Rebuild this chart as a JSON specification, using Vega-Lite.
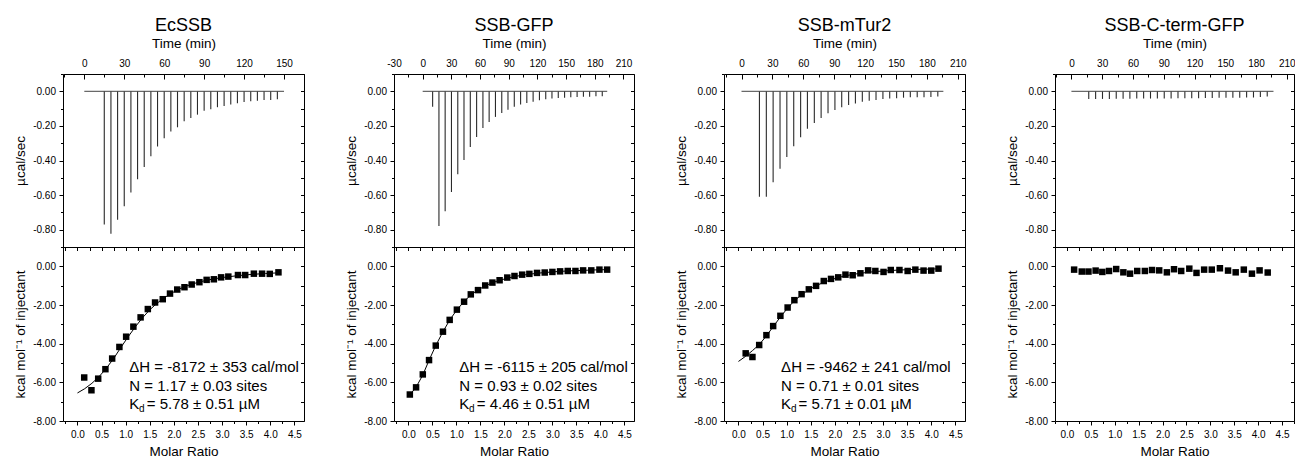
{
  "$schema": "https://vega.github.io/schema/vega-lite/v6.json",
  "padding": {"left": 13, "top": 16, "right": 0, "bottom": 0},
  "background": "white",
  "config": {
    "font": "Liberation Sans",
    "view": {"stroke": "black", "strokeWidth": 1},
    "axis": {"domain": false, "grid": false, "labelFont": "Liberation Sans", "labelFontSize": 10, "labelColor": "black", "tickColor": "black", "tickWidth": 1, "titleFont": "Liberation Sans", "titleFontSize": 13.5, "titleFontWeight": "normal", "titleColor": "black", "labelFlush": false, "labelOverlap": false},
    "title": {"font": "Liberation Sans", "fontSize": 18, "fontWeight": "normal", "color": "black", "offset": 1},
    "text": {"align": "left", "baseline": "alphabetic", "color": "black"}
  },
  "datasets": {
    "inj1": [{"t":15,"peak":-0.77},{"t":20,"peak":-0.823},{"t":25,"peak":-0.742},{"t":30,"peak":-0.665},{"t":35,"peak":-0.585},{"t":40,"peak":-0.508},{"t":45,"peak":-0.438},{"t":50,"peak":-0.375},{"t":55,"peak":-0.319},{"t":60,"peak":-0.271},{"t":65,"peak":-0.233},{"t":70,"peak":-0.208},{"t":75,"peak":-0.173},{"t":80,"peak":-0.154},{"t":85,"peak":-0.135},{"t":90,"peak":-0.112},{"t":95,"peak":-0.104},{"t":100,"peak":-0.092},{"t":105,"peak":-0.085},{"t":110,"peak":-0.077},{"t":115,"peak":-0.069},{"t":120,"peak":-0.062},{"t":125,"peak":-0.058},{"t":130,"peak":-0.054},{"t":135,"peak":-0.05},{"t":140,"peak":-0.05},{"t":145,"peak":-0.046}],
    "inj2": [{"t":10.4,"peak":-0.09},{"t":17.0,"peak":-0.778},{"t":23.5,"peak":-0.694},{"t":30.1,"peak":-0.582},{"t":36.7,"peak":-0.48},{"t":43.2,"peak":-0.397},{"t":49.8,"peak":-0.322},{"t":56.4,"peak":-0.264},{"t":63.0,"peak":-0.212},{"t":69.5,"peak":-0.177},{"t":76.1,"peak":-0.148},{"t":82.7,"peak":-0.125},{"t":89.2,"peak":-0.106},{"t":95.8,"peak":-0.09},{"t":102.4,"peak":-0.077},{"t":108.9,"peak":-0.067},{"t":115.5,"peak":-0.06},{"t":122.1,"peak":-0.052},{"t":128.7,"peak":-0.046},{"t":135.2,"peak":-0.042},{"t":141.8,"peak":-0.039},{"t":148.4,"peak":-0.037},{"t":154.9,"peak":-0.035},{"t":161.5,"peak":-0.033},{"t":168.1,"peak":-0.031},{"t":174.6,"peak":-0.031},{"t":181.2,"peak":-0.029},{"t":187.8,"peak":-0.029}],
    "inj3": [{"t":17.4,"peak":-0.61},{"t":24.1,"peak":-0.61},{"t":30.7,"peak":-0.525},{"t":37.4,"peak":-0.448},{"t":44.0,"peak":-0.38},{"t":50.7,"peak":-0.317},{"t":57.4,"peak":-0.265},{"t":64.0,"peak":-0.217},{"t":70.7,"peak":-0.183},{"t":77.3,"peak":-0.154},{"t":84.0,"peak":-0.127},{"t":90.7,"peak":-0.108},{"t":97.3,"peak":-0.092},{"t":104.0,"peak":-0.079},{"t":110.6,"peak":-0.07},{"t":117.3,"peak":-0.06},{"t":124.0,"peak":-0.055},{"t":130.6,"peak":-0.05},{"t":137.3,"peak":-0.045},{"t":143.9,"peak":-0.042},{"t":150.6,"peak":-0.04},{"t":157.3,"peak":-0.037},{"t":163.9,"peak":-0.035},{"t":170.6,"peak":-0.035},{"t":177.2,"peak":-0.034},{"t":183.9,"peak":-0.033},{"t":190.6,"peak":-0.03}],
    "inj4": [{"t":16.9,"peak":-0.045},{"t":23.6,"peak":-0.045},{"t":30.3,"peak":-0.044},{"t":37.0,"peak":-0.044},{"t":43.7,"peak":-0.043},{"t":50.4,"peak":-0.043},{"t":57.0,"peak":-0.043},{"t":63.7,"peak":-0.042},{"t":70.4,"peak":-0.042},{"t":77.1,"peak":-0.042},{"t":83.8,"peak":-0.041},{"t":90.5,"peak":-0.041},{"t":97.2,"peak":-0.041},{"t":103.9,"peak":-0.04},{"t":110.6,"peak":-0.04},{"t":117.3,"peak":-0.04},{"t":124.0,"peak":-0.04},{"t":130.6,"peak":-0.039},{"t":137.3,"peak":-0.039},{"t":144.0,"peak":-0.038},{"t":150.7,"peak":-0.038},{"t":157.4,"peak":-0.037},{"t":164.1,"peak":-0.037},{"t":170.8,"peak":-0.036},{"t":177.5,"peak":-0.036},{"t":184.2,"peak":-0.033},{"t":190.9,"peak":-0.03}],
    "base1": [{"start":0,"end":150}],
    "base2": [{"start":0,"end":193}],
    "base3": [{"start":0,"end":196}],
    "base4": [{"start":0,"end":197}],
    "pts1": [{"mr":0.14,"dh":-5.75},{"mr":0.29,"dh":-6.41},{"mr":0.43,"dh":-5.81},{"mr":0.58,"dh":-5.32},{"mr":0.72,"dh":-4.77},{"mr":0.87,"dh":-4.17},{"mr":1.01,"dh":-3.64},{"mr":1.16,"dh":-3.12},{"mr":1.31,"dh":-2.64},{"mr":1.46,"dh":-2.21},{"mr":1.61,"dh":-1.87},{"mr":1.77,"dh":-1.70},{"mr":1.92,"dh":-1.41},{"mr":2.07,"dh":-1.20},{"mr":2.22,"dh":-1.08},{"mr":2.37,"dh":-0.94},{"mr":2.53,"dh":-0.82},{"mr":2.68,"dh":-0.70},{"mr":2.83,"dh":-0.67},{"mr":2.98,"dh":-0.57},{"mr":3.13,"dh":-0.53},{"mr":3.33,"dh":-0.45},{"mr":3.48,"dh":-0.45},{"mr":3.66,"dh":-0.38},{"mr":3.83,"dh":-0.38},{"mr":3.99,"dh":-0.39},{"mr":4.17,"dh":-0.31}],
    "fit1": [{"mr":0.0,"dh":-6.55},{"mr":0.15,"dh":-6.33},{"mr":0.3,"dh":-6.05},{"mr":0.45,"dh":-5.7},{"mr":0.6,"dh":-5.27},{"mr":0.75,"dh":-4.77},{"mr":0.9,"dh":-4.2},{"mr":1.05,"dh":-3.65},{"mr":1.2,"dh":-3.13},{"mr":1.35,"dh":-2.66},{"mr":1.5,"dh":-2.25},{"mr":1.65,"dh":-1.91},{"mr":1.8,"dh":-1.63},{"mr":1.95,"dh":-1.39},{"mr":2.1,"dh":-1.19},{"mr":2.25,"dh":-1.03},{"mr":2.4,"dh":-0.9},{"mr":2.55,"dh":-0.8},{"mr":2.7,"dh":-0.71},{"mr":2.85,"dh":-0.64},{"mr":3.0,"dh":-0.58},{"mr":3.3,"dh":-0.49},{"mr":3.6,"dh":-0.42},{"mr":3.9,"dh":-0.37},{"mr":4.15,"dh":-0.34}],
    "pts2": [{"mr":0.03,"dh":-6.63},{"mr":0.16,"dh":-6.26},{"mr":0.30,"dh":-5.59},{"mr":0.43,"dh":-4.85},{"mr":0.57,"dh":-4.10},{"mr":0.72,"dh":-3.38},{"mr":0.86,"dh":-2.77},{"mr":1.01,"dh":-2.24},{"mr":1.16,"dh":-1.83},{"mr":1.30,"dh":-1.45},{"mr":1.45,"dh":-1.23},{"mr":1.60,"dh":-0.99},{"mr":1.75,"dh":-0.84},{"mr":1.90,"dh":-0.72},{"mr":2.06,"dh":-0.58},{"mr":2.21,"dh":-0.50},{"mr":2.37,"dh":-0.43},{"mr":2.52,"dh":-0.39},{"mr":2.68,"dh":-0.34},{"mr":2.84,"dh":-0.32},{"mr":3.00,"dh":-0.29},{"mr":3.16,"dh":-0.26},{"mr":3.32,"dh":-0.24},{"mr":3.48,"dh":-0.24},{"mr":3.64,"dh":-0.21},{"mr":3.81,"dh":-0.21},{"mr":3.98,"dh":-0.17},{"mr":4.14,"dh":-0.17}],
    "fit2": [{"mr":0.03,"dh":-6.65},{"mr":0.16,"dh":-6.25},{"mr":0.30,"dh":-5.62},{"mr":0.43,"dh":-4.86},{"mr":0.57,"dh":-4.10},{"mr":0.72,"dh":-3.38},{"mr":0.86,"dh":-2.78},{"mr":1.01,"dh":-2.25},{"mr":1.16,"dh":-1.82},{"mr":1.30,"dh":-1.48},{"mr":1.45,"dh":-1.22},{"mr":1.60,"dh":-1.01},{"mr":1.75,"dh":-0.85},{"mr":1.90,"dh":-0.72},{"mr":2.06,"dh":-0.62},{"mr":2.21,"dh":-0.53},{"mr":2.37,"dh":-0.46},{"mr":2.52,"dh":-0.41},{"mr":2.68,"dh":-0.36},{"mr":2.84,"dh":-0.32},{"mr":3.00,"dh":-0.29},{"mr":3.16,"dh":-0.26},{"mr":3.32,"dh":-0.24},{"mr":3.48,"dh":-0.22},{"mr":3.64,"dh":-0.21},{"mr":3.81,"dh":-0.19},{"mr":3.98,"dh":-0.18},{"mr":4.14,"dh":-0.17}],
    "pts3": [{"mr":0.15,"dh":-4.5},{"mr":0.29,"dh":-4.69},{"mr":0.43,"dh":-4.07},{"mr":0.58,"dh":-3.56},{"mr":0.72,"dh":-3.09},{"mr":0.87,"dh":-2.56},{"mr":1.02,"dh":-2.13},{"mr":1.16,"dh":-1.75},{"mr":1.31,"dh":-1.44},{"mr":1.46,"dh":-1.19},{"mr":1.61,"dh":-1.01},{"mr":1.77,"dh":-0.76},{"mr":1.92,"dh":-0.65},{"mr":2.07,"dh":-0.57},{"mr":2.22,"dh":-0.43},{"mr":2.37,"dh":-0.46},{"mr":2.53,"dh":-0.36},{"mr":2.69,"dh":-0.21},{"mr":2.84,"dh":-0.24},{"mr":3.01,"dh":-0.29},{"mr":3.16,"dh":-0.19},{"mr":3.34,"dh":-0.19},{"mr":3.51,"dh":-0.24},{"mr":3.67,"dh":-0.17},{"mr":3.84,"dh":-0.22},{"mr":4.0,"dh":-0.22},{"mr":4.15,"dh":-0.12}],
    "fit3": [{"mr":0.0,"dh":-4.92},{"mr":0.15,"dh":-4.65},{"mr":0.29,"dh":-4.36},{"mr":0.43,"dh":-4.05},{"mr":0.58,"dh":-3.6},{"mr":0.72,"dh":-3.12},{"mr":0.87,"dh":-2.62},{"mr":1.02,"dh":-2.16},{"mr":1.16,"dh":-1.78},{"mr":1.31,"dh":-1.47},{"mr":1.46,"dh":-1.21},{"mr":1.61,"dh":-1.0},{"mr":1.77,"dh":-0.83},{"mr":1.92,"dh":-0.69},{"mr":2.07,"dh":-0.58},{"mr":2.22,"dh":-0.49},{"mr":2.37,"dh":-0.42},{"mr":2.53,"dh":-0.36},{"mr":2.69,"dh":-0.31},{"mr":2.84,"dh":-0.27},{"mr":3.01,"dh":-0.24},{"mr":3.34,"dh":-0.19},{"mr":3.67,"dh":-0.16},{"mr":4.0,"dh":-0.14},{"mr":4.15,"dh":-0.13}],
    "pts4": [{"mr":0.15,"dh":-0.17},{"mr":0.31,"dh":-0.27},{"mr":0.45,"dh":-0.27},{"mr":0.60,"dh":-0.22},{"mr":0.74,"dh":-0.29},{"mr":0.88,"dh":-0.24},{"mr":1.03,"dh":-0.14},{"mr":1.18,"dh":-0.31},{"mr":1.32,"dh":-0.38},{"mr":1.47,"dh":-0.24},{"mr":1.63,"dh":-0.24},{"mr":1.78,"dh":-0.19},{"mr":1.93,"dh":-0.21},{"mr":2.09,"dh":-0.31},{"mr":2.24,"dh":-0.15},{"mr":2.39,"dh":-0.24},{"mr":2.56,"dh":-0.12},{"mr":2.71,"dh":-0.34},{"mr":2.87,"dh":-0.17},{"mr":3.03,"dh":-0.17},{"mr":3.20,"dh":-0.10},{"mr":3.37,"dh":-0.22},{"mr":3.53,"dh":-0.31},{"mr":3.70,"dh":-0.17},{"mr":3.87,"dh":-0.38},{"mr":4.03,"dh":-0.21},{"mr":4.20,"dh":-0.32}]
  },
  "concat": [
    {
      "width": 241, "height": 173,
      "title": {"text": "EcSSB"},
      "layer": [
        {"data": {"name": "inj1"}, "mark": {"type": "rule", "color": "#2a2a2a", "strokeWidth": 1.1},
         "encoding": {
           "x": {"field": "t", "type": "quantitative", "scale": {"domain": [-16, 165], "nice": false, "zero": false},
                 "axis": {"orient": "top", "title": "Time (min)", "values": [-15,0,15,30,45,60,75,90,105,120,135,150,165], "labelExpr": "datum.value % 30 === 0 ? replace(datum.label, '−', '-') : ''", "tickSize": {"condition": {"test": "datum.value % 30 === 0", "value": -5}, "value": -3}, "labelPadding": 11, "titlePadding": 6}},
           "y": {"field": "peak", "type": "quantitative", "scale": {"domain": [-0.9, 0.1], "nice": false, "zero": false},
                 "axis": {"orient": "left", "title": "µcal/sec", "values": [0.1,0,-0.1,-0.2,-0.3,-0.4,-0.5,-0.6,-0.7,-0.8,-0.9], "labelExpr": "abs(round(datum.value*10)) % 2 === 0 ? replace(format(datum.value, '.2f'), '−', '-') : ''", "tickSize": {"condition": {"test": "abs(round(datum.value*10)) % 2 === 0", "value": 4}, "value": 2.5}, "labelPadding": 3.5, "titlePadding": 5}},
           "y2": {"datum": 0}
         }},
        {"data": {"name": "base1"}, "mark": {"type": "rule", "color": "#444", "strokeWidth": 1},
         "encoding": {
           "x": {"field": "start", "type": "quantitative", "axis": null},
           "x2": {"field": "end"},
           "y": {"datum": 0, "type": "quantitative", "axis": {"orient": "right", "title": null, "labels": false, "values": [0.1,0,-0.1,-0.2,-0.3,-0.4,-0.5,-0.6,-0.7,-0.8,-0.9], "tickSize": -3.5}}
         }}
      ],
      "resolve": {"axis": {"x": "independent", "y": "independent"}}
    },
    {
      "width": 240, "height": 173,
      "title": {"text": "SSB-GFP"},
      "layer": [
        {"data": {"name": "inj2"}, "mark": {"type": "rule", "color": "#2a2a2a", "strokeWidth": 1.1},
         "encoding": {
           "x": {"field": "t", "type": "quantitative", "scale": {"domain": [-30, 221], "nice": false, "zero": false},
                 "axis": {"orient": "top", "title": "Time (min)", "values": [-30,-15,0,15,30,45,60,75,90,105,120,135,150,165,180,195,210], "labelExpr": "datum.value % 30 === 0 ? replace(datum.label, '−', '-') : ''", "tickSize": {"condition": {"test": "datum.value % 30 === 0", "value": -5}, "value": -3}, "labelPadding": 11, "titlePadding": 6}},
           "y": {"field": "peak", "type": "quantitative", "scale": {"domain": [-0.9, 0.1], "nice": false, "zero": false},
                 "axis": {"orient": "left", "title": "µcal/sec", "values": [0.1,0,-0.1,-0.2,-0.3,-0.4,-0.5,-0.6,-0.7,-0.8,-0.9], "labelExpr": "abs(round(datum.value*10)) % 2 === 0 ? replace(format(datum.value, '.2f'), '−', '-') : ''", "tickSize": {"condition": {"test": "abs(round(datum.value*10)) % 2 === 0", "value": 4}, "value": 2.5}, "labelPadding": 3.5, "titlePadding": 5}},
           "y2": {"datum": 0}
         }},
        {"data": {"name": "base2"}, "mark": {"type": "rule", "color": "#444", "strokeWidth": 1},
         "encoding": {
           "x": {"field": "start", "type": "quantitative", "axis": null},
           "x2": {"field": "end"},
           "y": {"datum": 0, "type": "quantitative", "axis": {"orient": "right", "title": null, "labels": false, "values": [0.1,0,-0.1,-0.2,-0.3,-0.4,-0.5,-0.6,-0.7,-0.8,-0.9], "tickSize": -3.5}}
         }}
      ],
      "resolve": {"axis": {"x": "independent", "y": "independent"}}
    },
    {
      "width": 241, "height": 173,
      "title": {"text": "SSB-mTur2"},
      "layer": [
        {"data": {"name": "inj3"}, "mark": {"type": "rule", "color": "#2a2a2a", "strokeWidth": 1.1},
         "encoding": {
           "x": {"field": "t", "type": "quantitative", "scale": {"domain": [-17, 217], "nice": false, "zero": false},
                 "axis": {"orient": "top", "title": "Time (min)", "values": [-15,0,15,30,45,60,75,90,105,120,135,150,165,180,195,210], "labelExpr": "datum.value % 30 === 0 ? replace(datum.label, '−', '-') : ''", "tickSize": {"condition": {"test": "datum.value % 30 === 0", "value": -5}, "value": -3}, "labelPadding": 11, "titlePadding": 6}},
           "y": {"field": "peak", "type": "quantitative", "scale": {"domain": [-0.9, 0.1], "nice": false, "zero": false},
                 "axis": {"orient": "left", "title": "µcal/sec", "values": [0.1,0,-0.1,-0.2,-0.3,-0.4,-0.5,-0.6,-0.7,-0.8,-0.9], "labelExpr": "abs(round(datum.value*10)) % 2 === 0 ? replace(format(datum.value, '.2f'), '−', '-') : ''", "tickSize": {"condition": {"test": "abs(round(datum.value*10)) % 2 === 0", "value": 4}, "value": 2.5}, "labelPadding": 3.5, "titlePadding": 5}},
           "y2": {"datum": 0}
         }},
        {"data": {"name": "base3"}, "mark": {"type": "rule", "color": "#444", "strokeWidth": 1},
         "encoding": {
           "x": {"field": "start", "type": "quantitative", "axis": null},
           "x2": {"field": "end"},
           "y": {"datum": 0, "type": "quantitative", "axis": {"orient": "right", "title": null, "labels": false, "values": [0.1,0,-0.1,-0.2,-0.3,-0.4,-0.5,-0.6,-0.7,-0.8,-0.9], "tickSize": -3.5}}
         }}
      ],
      "resolve": {"axis": {"x": "independent", "y": "independent"}}
    },
    {
      "width": 239, "height": 173,
      "title": {"text": "SSB-C-term-GFP"},
      "layer": [
        {"data": {"name": "inj4"}, "mark": {"type": "rule", "color": "#2a2a2a", "strokeWidth": 1.1},
         "encoding": {
           "x": {"field": "t", "type": "quantitative", "scale": {"domain": [-16, 217], "nice": false, "zero": false},
                 "axis": {"orient": "top", "title": "Time (min)", "values": [-15,0,15,30,45,60,75,90,105,120,135,150,165,180,195,210], "labelExpr": "datum.value % 30 === 0 ? replace(datum.label, '−', '-') : ''", "tickSize": {"condition": {"test": "datum.value % 30 === 0", "value": -5}, "value": -3}, "labelPadding": 11, "titlePadding": 6}},
           "y": {"field": "peak", "type": "quantitative", "scale": {"domain": [-0.9, 0.1], "nice": false, "zero": false},
                 "axis": {"orient": "left", "title": "µcal/sec", "values": [0.1,0,-0.1,-0.2,-0.3,-0.4,-0.5,-0.6,-0.7,-0.8,-0.9], "labelExpr": "abs(round(datum.value*10)) % 2 === 0 ? replace(format(datum.value, '.2f'), '−', '-') : ''", "tickSize": {"condition": {"test": "abs(round(datum.value*10)) % 2 === 0", "value": 4}, "value": 2.5}, "labelPadding": 3.5, "titlePadding": 5}},
           "y2": {"datum": 0}
         }},
        {"data": {"name": "base4"}, "mark": {"type": "rule", "color": "#444", "strokeWidth": 1},
         "encoding": {
           "x": {"field": "start", "type": "quantitative", "axis": null},
           "x2": {"field": "end"},
           "y": {"datum": 0, "type": "quantitative", "axis": {"orient": "right", "title": null, "labels": false, "values": [0.1,0,-0.1,-0.2,-0.3,-0.4,-0.5,-0.6,-0.7,-0.8,-0.9], "tickSize": -3.5}}
         }}
      ],
      "resolve": {"axis": {"x": "independent", "y": "independent"}}
    },
    {
      "width": 241, "height": 174,
      "layer": [
        {"data": {"name": "fit1"}, "mark": {"type": "line", "color": "black", "strokeWidth": 1},
         "encoding": {
           "x": {"field": "mr", "type": "quantitative", "scale": {"domain": [-0.3, 4.7], "nice": false, "zero": false},
                 "axis": {"orient": "bottom", "title": "Molar Ratio", "values": [-0.25,0,0.25,0.5,0.75,1,1.25,1.5,1.75,2,2.25,2.5,2.75,3,3.25,3.5,3.75,4,4.25,4.5], "labelExpr": "round(datum.value*4) % 2 === 0 ? format(datum.value, '.1f') : ''", "tickSize": {"condition": {"test": "round(datum.value*4) % 2 === 0", "value": 4}, "value": 2.5}, "labelPadding": 4.5, "titlePadding": 5}},
           "y": {"field": "dh", "type": "quantitative", "scale": {"domain": [-8, 1], "nice": false, "zero": false},
                 "axis": {"orient": "left", "title": "kcal mol⁻¹ of injectant", "values": [1,0,-1,-2,-3,-4,-5,-6,-7,-8], "labelExpr": "datum.value % 2 === 0 ? replace(format(datum.value, '.2f'), '−', '-') : ''", "tickSize": {"condition": {"test": "datum.value % 2 === 0", "value": 4}, "value": 2.5}, "labelPadding": 3.5, "titlePadding": 5}}
         }},
        {"data": {"name": "pts1"}, "mark": {"type": "point", "shape": "square", "filled": true, "size": 42, "color": "black", "opacity": 1},
         "encoding": {
           "x": {"field": "mr", "type": "quantitative", "axis": {"orient": "top", "title": null, "labels": false, "values": [-0.25,0,0.25,0.5,0.75,1,1.25,1.5,1.75,2,2.25,2.5,2.75,3,3.25,3.5,3.75,4,4.25,4.5], "tickSize": -3.5}},
           "y": {"field": "dh", "type": "quantitative", "axis": {"orient": "right", "title": null, "labels": false, "values": [1,0,-1,-2,-3,-4,-5,-6,-7,-8], "tickSize": -3.5}}
         }},
        {"data": {"values": [{}]}, "mark": {"type": "text", "fontSize": 15, "lineHeight": 18.5},
         "encoding": {"x": {"datum": 1.075, "type": "quantitative", "axis": null}, "y": {"datum": -5.47, "type": "quantitative", "axis": null},
           "text": {"value": ["ΔH = -8172 ± 353 cal/mol", "N = 1.17 ± 0.03 sites"]}}},
        {"data": {"values": [{}]}, "mark": {"type": "text", "fontSize": 15},
         "encoding": {"x": {"datum": 1.075, "type": "quantitative", "axis": null}, "y": {"datum": -7.384, "type": "quantitative", "axis": null}, "text": {"value": "K"}}},
        {"data": {"values": [{}]}, "mark": {"type": "text", "fontSize": 10, "dx": 9.8, "dy": 3},
         "encoding": {"x": {"datum": 1.075, "type": "quantitative", "axis": null}, "y": {"datum": -7.384, "type": "quantitative", "axis": null}, "text": {"value": "d"}}},
        {"data": {"values": [{}]}, "mark": {"type": "text", "fontSize": 15, "dx": 17.5},
         "encoding": {"x": {"datum": 1.075, "type": "quantitative", "axis": null}, "y": {"datum": -7.384, "type": "quantitative", "axis": null}, "text": {"value": "= 5.78 ± 0.51 µM"}}}
      ],
      "resolve": {"axis": {"x": "independent", "y": "independent"}}
    },
    {
      "width": 240, "height": 174,
      "layer": [
        {"data": {"name": "fit2"}, "mark": {"type": "line", "color": "black", "strokeWidth": 1},
         "encoding": {
           "x": {"field": "mr", "type": "quantitative", "scale": {"domain": [-0.3, 4.7], "nice": false, "zero": false},
                 "axis": {"orient": "bottom", "title": "Molar Ratio", "values": [-0.25,0,0.25,0.5,0.75,1,1.25,1.5,1.75,2,2.25,2.5,2.75,3,3.25,3.5,3.75,4,4.25,4.5], "labelExpr": "round(datum.value*4) % 2 === 0 ? format(datum.value, '.1f') : ''", "tickSize": {"condition": {"test": "round(datum.value*4) % 2 === 0", "value": 4}, "value": 2.5}, "labelPadding": 4.5, "titlePadding": 5}},
           "y": {"field": "dh", "type": "quantitative", "scale": {"domain": [-8, 1], "nice": false, "zero": false},
                 "axis": {"orient": "left", "title": "kcal mol⁻¹ of injectant", "values": [1,0,-1,-2,-3,-4,-5,-6,-7,-8], "labelExpr": "datum.value % 2 === 0 ? replace(format(datum.value, '.2f'), '−', '-') : ''", "tickSize": {"condition": {"test": "datum.value % 2 === 0", "value": 4}, "value": 2.5}, "labelPadding": 3.5, "titlePadding": 5}}
         }},
        {"data": {"name": "pts2"}, "mark": {"type": "point", "shape": "square", "filled": true, "size": 42, "color": "black", "opacity": 1},
         "encoding": {
           "x": {"field": "mr", "type": "quantitative", "axis": {"orient": "top", "title": null, "labels": false, "values": [-0.25,0,0.25,0.5,0.75,1,1.25,1.5,1.75,2,2.25,2.5,2.75,3,3.25,3.5,3.75,4,4.25,4.5], "tickSize": -3.5}},
           "y": {"field": "dh", "type": "quantitative", "axis": {"orient": "right", "title": null, "labels": false, "values": [1,0,-1,-2,-3,-4,-5,-6,-7,-8], "tickSize": -3.5}}
         }},
        {"data": {"values": [{}]}, "mark": {"type": "text", "fontSize": 15, "lineHeight": 18.5},
         "encoding": {"x": {"datum": 1.06, "type": "quantitative", "axis": null}, "y": {"datum": -5.47, "type": "quantitative", "axis": null},
           "text": {"value": ["ΔH = -6115 ± 205 cal/mol", "N = 0.93 ± 0.02 sites"]}}},
        {"data": {"values": [{}]}, "mark": {"type": "text", "fontSize": 15},
         "encoding": {"x": {"datum": 1.06, "type": "quantitative", "axis": null}, "y": {"datum": -7.384, "type": "quantitative", "axis": null}, "text": {"value": "K"}}},
        {"data": {"values": [{}]}, "mark": {"type": "text", "fontSize": 10, "dx": 9.8, "dy": 3},
         "encoding": {"x": {"datum": 1.06, "type": "quantitative", "axis": null}, "y": {"datum": -7.384, "type": "quantitative", "axis": null}, "text": {"value": "d"}}},
        {"data": {"values": [{}]}, "mark": {"type": "text", "fontSize": 15, "dx": 17.5},
         "encoding": {"x": {"datum": 1.06, "type": "quantitative", "axis": null}, "y": {"datum": -7.384, "type": "quantitative", "axis": null}, "text": {"value": "= 4.46 ± 0.51 µM"}}}
      ],
      "resolve": {"axis": {"x": "independent", "y": "independent"}}
    },
    {
      "width": 241, "height": 174,
      "layer": [
        {"data": {"name": "fit3"}, "mark": {"type": "line", "color": "black", "strokeWidth": 1},
         "encoding": {
           "x": {"field": "mr", "type": "quantitative", "scale": {"domain": [-0.3, 4.7], "nice": false, "zero": false},
                 "axis": {"orient": "bottom", "title": "Molar Ratio", "values": [-0.25,0,0.25,0.5,0.75,1,1.25,1.5,1.75,2,2.25,2.5,2.75,3,3.25,3.5,3.75,4,4.25,4.5], "labelExpr": "round(datum.value*4) % 2 === 0 ? format(datum.value, '.1f') : ''", "tickSize": {"condition": {"test": "round(datum.value*4) % 2 === 0", "value": 4}, "value": 2.5}, "labelPadding": 4.5, "titlePadding": 5}},
           "y": {"field": "dh", "type": "quantitative", "scale": {"domain": [-8, 1], "nice": false, "zero": false},
                 "axis": {"orient": "left", "title": "kcal mol⁻¹ of injectant", "values": [1,0,-1,-2,-3,-4,-5,-6,-7,-8], "labelExpr": "datum.value % 2 === 0 ? replace(format(datum.value, '.2f'), '−', '-') : ''", "tickSize": {"condition": {"test": "datum.value % 2 === 0", "value": 4}, "value": 2.5}, "labelPadding": 3.5, "titlePadding": 5}}
         }},
        {"data": {"name": "pts3"}, "mark": {"type": "point", "shape": "square", "filled": true, "size": 42, "color": "black", "opacity": 1},
         "encoding": {
           "x": {"field": "mr", "type": "quantitative", "axis": {"orient": "top", "title": null, "labels": false, "values": [-0.25,0,0.25,0.5,0.75,1,1.25,1.5,1.75,2,2.25,2.5,2.75,3,3.25,3.5,3.75,4,4.25,4.5], "tickSize": -3.5}},
           "y": {"field": "dh", "type": "quantitative", "axis": {"orient": "right", "title": null, "labels": false, "values": [1,0,-1,-2,-3,-4,-5,-6,-7,-8], "tickSize": -3.5}}
         }},
        {"data": {"values": [{}]}, "mark": {"type": "text", "fontSize": 15, "lineHeight": 18.5},
         "encoding": {"x": {"datum": 0.885, "type": "quantitative", "axis": null}, "y": {"datum": -5.47, "type": "quantitative", "axis": null},
           "text": {"value": ["ΔH = -9462 ± 241 cal/mol", "N = 0.71 ± 0.01 sites"]}}},
        {"data": {"values": [{}]}, "mark": {"type": "text", "fontSize": 15},
         "encoding": {"x": {"datum": 0.885, "type": "quantitative", "axis": null}, "y": {"datum": -7.384, "type": "quantitative", "axis": null}, "text": {"value": "K"}}},
        {"data": {"values": [{}]}, "mark": {"type": "text", "fontSize": 10, "dx": 9.8, "dy": 3},
         "encoding": {"x": {"datum": 0.885, "type": "quantitative", "axis": null}, "y": {"datum": -7.384, "type": "quantitative", "axis": null}, "text": {"value": "d"}}},
        {"data": {"values": [{}]}, "mark": {"type": "text", "fontSize": 15, "dx": 17.5},
         "encoding": {"x": {"datum": 0.885, "type": "quantitative", "axis": null}, "y": {"datum": -7.384, "type": "quantitative", "axis": null}, "text": {"value": "= 5.71 ± 0.01 µM"}}}
      ],
      "resolve": {"axis": {"x": "independent", "y": "independent"}}
    },
    {
      "width": 239, "height": 174,
      "layer": [
        {"data": {"name": "pts4"}, "mark": {"type": "point", "shape": "square", "filled": true, "size": 42, "color": "black", "opacity": 1},
         "encoding": {
           "x": {"field": "mr", "type": "quantitative", "scale": {"domain": [-0.25, 4.75], "nice": false, "zero": false},
                 "axis": {"orient": "bottom", "title": "Molar Ratio", "values": [-0.25,0,0.25,0.5,0.75,1,1.25,1.5,1.75,2,2.25,2.5,2.75,3,3.25,3.5,3.75,4,4.25,4.5,4.75], "labelExpr": "round(datum.value*4) % 2 === 0 ? format(datum.value, '.1f') : ''", "tickSize": {"condition": {"test": "round(datum.value*4) % 2 === 0", "value": 4}, "value": 2.5}, "labelPadding": 4.5, "titlePadding": 5}},
           "y": {"field": "dh", "type": "quantitative", "scale": {"domain": [-8, 1], "nice": false, "zero": false},
                 "axis": {"orient": "left", "title": "kcal mol⁻¹ of injectant", "values": [1,0,-1,-2,-3,-4,-5,-6,-7,-8], "labelExpr": "datum.value % 2 === 0 ? replace(format(datum.value, '.2f'), '−', '-') : ''", "tickSize": {"condition": {"test": "datum.value % 2 === 0", "value": 4}, "value": 2.5}, "labelPadding": 3.5, "titlePadding": 5}}
         }},
        {"data": {"name": "pts4"}, "mark": {"type": "point", "shape": "square", "filled": true, "size": 42, "color": "black", "opacity": 0},
         "encoding": {
           "x": {"field": "mr", "type": "quantitative", "axis": {"orient": "top", "title": null, "labels": false, "values": [-0.25,0,0.25,0.5,0.75,1,1.25,1.5,1.75,2,2.25,2.5,2.75,3,3.25,3.5,3.75,4,4.25,4.5,4.75], "tickSize": -3.5}},
           "y": {"field": "dh", "type": "quantitative", "axis": {"orient": "right", "title": null, "labels": false, "values": [1,0,-1,-2,-3,-4,-5,-6,-7,-8], "tickSize": -3.5}}
         }}
      ],
      "resolve": {"axis": {"x": "independent", "y": "independent"}}
    }
  ],
  "columns": 4,
  "spacing": {"row": 0, "column": 90},
  "bounds": "flush",
  "align": "each"
}
